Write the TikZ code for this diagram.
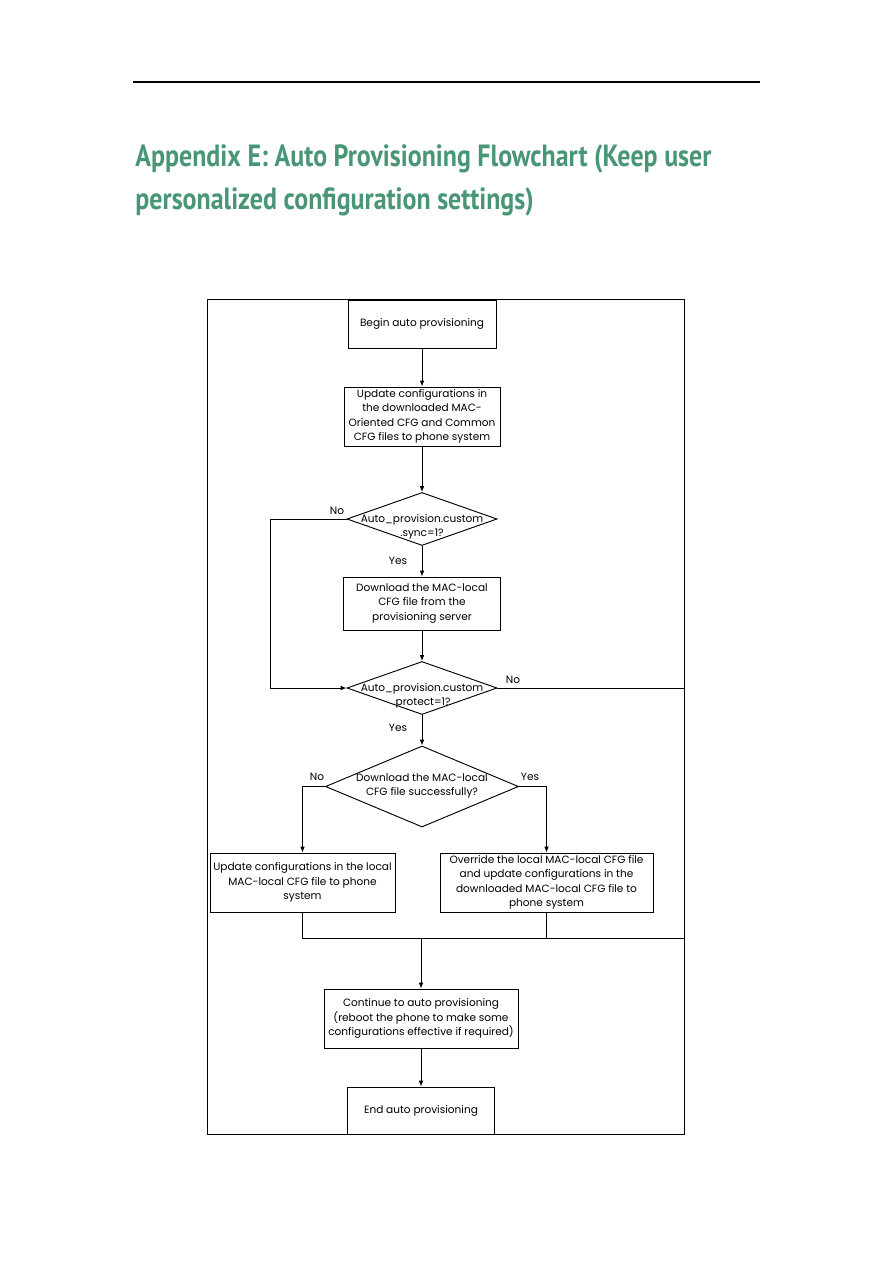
\documentclass[tikz,border=0pt]{standalone}
\usepackage{fontspec}
\setmainfont{Poppins}
\newfontfamily\titlefont[FakeStretch=0.845]{PT Sans}
\usetikzlibrary{arrows.meta,shapes.geometric}
\definecolor{titlegreen}{RGB}{72,150,118}

\begin{document}
\begin{tikzpicture}[
  x=0.03cm, y=-0.03cm, line width=0.8pt,
  box/.style={draw, align=center, inner sep=1pt, font=\fontsize{9}{12.3}\selectfont},
  dec/.style={draw, diamond, inner sep=0pt},
  dtxt/.style={align=center, inner sep=0pt, font=\fontsize{9}{12.3}\selectfont},
  lbl/.style={inner sep=0pt, font=\fontsize{9}{12.3}\selectfont},
  flow/.style={-{Latex[length=5pt,width=4pt]}}
]
\useasboundingbox (0,0) rectangle (893,1263);
\draw[line width=1pt] (133,82) -- (760,82);
\node[anchor=base west, align=left, inner sep=0pt, text=titlegreen,
  font=\titlefont\bfseries\fontsize{26.2}{36}\selectfont] (title) at (135,209)
  {Appendix E: Auto Provisioning Flowchart (Keep user\\personalized configuration settings)};
\draw[line width=0.6pt] (207,299) rectangle (684,1134);

\node[box, minimum width=4.44cm, minimum height=1.44cm] (begin) at (422,324) {Begin auto provisioning};
\node[box, minimum width=4.68cm, minimum height=1.77cm] (upd) at (422,416.5) {Update configurations in\\the downloaded MAC-\\Oriented CFG and Common\\CFG files to phone system};
\node[dec, minimum width=4.5cm, minimum height=1.59cm] (sync) at (422,519) {};
\node[dtxt] (synctxt) at (422,527) {Auto\_provision.custom\\.sync=1?};
\node[box, minimum width=4.71cm, minimum height=1.59cm] (dl) at (422,603.5) {Download the MAC-local\\CFG file from the\\provisioning server};
\node[dec, minimum width=4.5cm, minimum height=1.59cm] (prot) at (422,688) {};
\node[dtxt] (prottxt) at (422,696) {Auto\_provision.custom\\.protect=1?};
\node[dec, minimum width=5.79cm, minimum height=2.43cm] (succ) at (422,786.5) {};
\node[dtxt] (succtxt) at (422,786) {Download the MAC-local\\CFG file successfully?};
\node[box, minimum width=5.55cm, minimum height=1.77cm] (loc) at (302.5,882.5) {Update configurations in the local\\MAC-local CFG file to phone\\system};
\node[box, minimum width=6.39cm, minimum height=1.77cm] (ovr) at (546.5,882.5) {Override the local MAC-local CFG file\\and update configurations in the\\downloaded MAC-local CFG file to\\phone system};
\node[box, minimum width=5.82cm, minimum height=1.77cm] (cont) at (421,1018.5) {Continue to auto provisioning\\(reboot the phone to make some\\configurations effective if required)};
\node[box, minimum width=4.41cm, minimum height=1.41cm] (end) at (421,1110.5) {End auto provisioning};

\coordinate (byl) at (270,519);
\coordinate (jr) at (684,938);

\draw[flow] (begin) -- (upd);
\draw[flow] (upd) -- (sync);
\draw[flow] (sync) -- (dl);
\draw[flow] (dl) -- (prot);
\draw[flow] (sync.west) -- (byl) |- (prot.west);
\draw (prot.east) -| (jr);
\draw[flow] (prot) -- (succ);
\draw[flow] (succ.west) -| (loc);
\draw[flow] (succ.east) -| (ovr);
\draw (loc) -- (loc |- jr) -- (jr);
\draw (ovr) -- (ovr |- jr);
\draw[flow] (cont |- jr) -- (cont);
\draw[flow] (cont) -- (end);

\node[lbl] (nosync) at (337,511) {No};
\node[lbl] (yessync) at (398,561) {Yes};
\node[lbl] (noprot) at (513,680) {No};
\node[lbl] (yesprot) at (398,728) {Yes};
\node[lbl] (nosucc) at (317,777) {No};
\node[lbl] (yessucc) at (530,777) {Yes};
\end{tikzpicture}
\end{document}
